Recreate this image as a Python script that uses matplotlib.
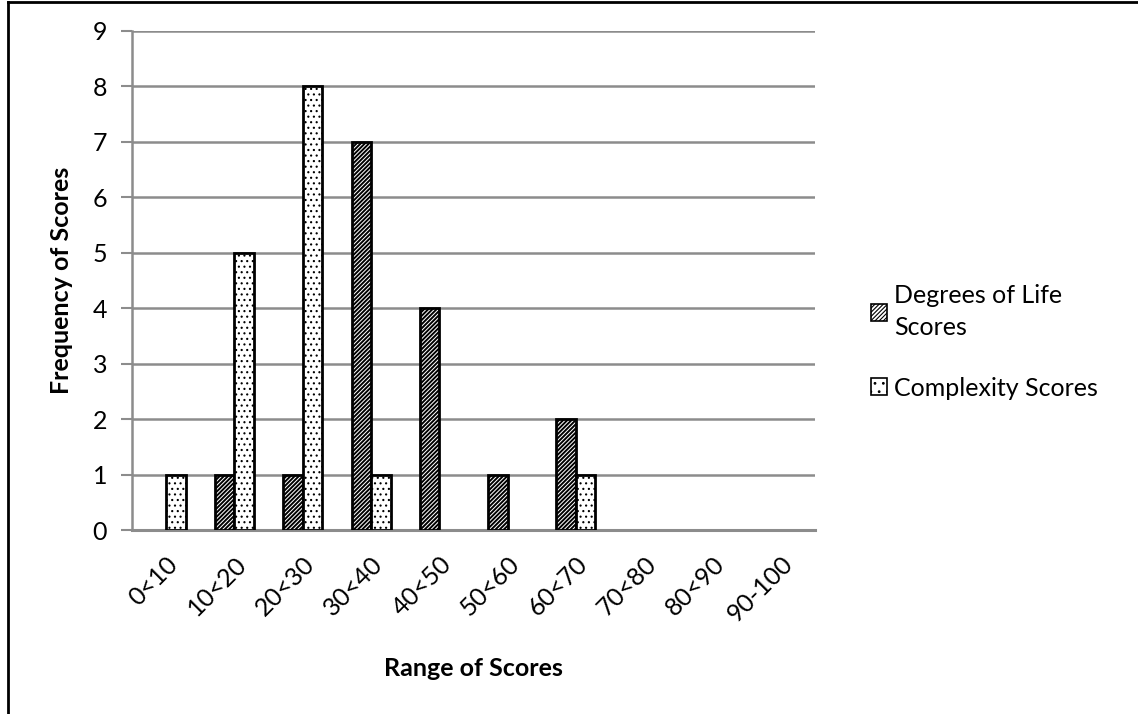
import matplotlib
matplotlib.use("Agg")
import matplotlib.pyplot as plt
import numpy as np
from matplotlib.lines import Line2D
from matplotlib.patches import Patch

plt.rcParams['font.family'] = ['Lato', 'DejaVu Sans']

categories = ["0<10", "10<20", "20<30", "30<40", "40<50",
              "50<60", "60<70", "70<80", "80<90", "90-100"]
degrees_of_life = [0, 1, 1, 7, 4, 1, 2, 0, 0, 0]
complexity = [1, 5, 8, 1, 0, 0, 1, 0, 0, 0]
y_ticks = list(range(0, 10))

fig = plt.figure(figsize=(11.38, 7.14), dpi=100)
ax = fig.add_axes([132 / 1138, 184 / 714, 683 / 1138, 499 / 714])

x = np.arange(len(categories))
w = 0.285
grid_col = "#8c8c8c"
fs = 18
diag_hatch = "////////"
dot_hatch = "..."

# Bars (only non-zero values get drawn with an outline)
plt.rcParams['hatch.linewidth'] = 1.4
for xi, v in zip(x, degrees_of_life):
    if v > 0:
        ax.bar(xi - w / 2, v, width=w, facecolor="white", edgecolor="black",
               hatch=diag_hatch, linewidth=2.0, zorder=3)
diag_handle = Patch(facecolor="white", edgecolor="black", hatch=diag_hatch,
                    linewidth=1.2, label="Degrees of Life\nScores")

plt.rcParams['hatch.linewidth'] = 0.8
for xi, v in zip(x, complexity):
    if v > 0:
        ax.bar(xi + w / 2, v, width=w, facecolor="white", edgecolor="black",
               hatch=dot_hatch, linewidth=2.0, zorder=3)
dot_handle = Patch(facecolor="white", edgecolor="black", hatch=".." ,
                   linewidth=1.2, label="Complexity Scores")

ax.set_xlim(-0.5, len(categories) - 0.5)
ax.set_ylim(0, 9)
ax.set_yticks(y_ticks)
ax.tick_params(axis="y", labelsize=fs, length=8, width=1.5, color=grid_col, pad=10)
ax.set_xticks(x)
ax.set_xticklabels(categories, rotation=45, ha="right", rotation_mode="anchor",
                   fontsize=fs)
ax.tick_params(axis="x", length=0, pad=16)

ax.yaxis.grid(True, color=grid_col, linewidth=1.8, zorder=0)
for s in ["top", "right"]:
    ax.spines[s].set_visible(False)
ax.spines["left"].set_color(grid_col)
ax.spines["left"].set_linewidth(1.8)
ax.spines["bottom"].set_color(grid_col)
ax.spines["bottom"].set_linewidth(2.2)

ax.set_ylabel("Frequency of Scores", fontsize=fs, fontweight="bold", labelpad=14)
ax.set_xlabel("Range of Scores", fontsize=fs, fontweight="bold", labelpad=22)

# Legend
leg = fig.legend(handles=[diag_handle, dot_handle], loc="upper left",
                 bbox_to_anchor=(848 / 1138, 1 - 262 / 714),
                 frameon=False, fontsize=fs, handlelength=0.65, handleheight=0.65,
                 handletextpad=0.3, labelspacing=1.5)
for t in leg.get_texts():
    t.set_linespacing(1.45)

# Page frame lines
fig.add_artist(Line2D([8 / 1138, 8 / 1138], [0, 1 - 2 / 714], transform=fig.transFigure,
                      color="black", linewidth=2))
fig.add_artist(Line2D([8 / 1138, 1], [1 - 2 / 714, 1 - 2 / 714], transform=fig.transFigure,
                      color="black", linewidth=2))

fig.savefig("out.png", dpi=100, facecolor="white")
